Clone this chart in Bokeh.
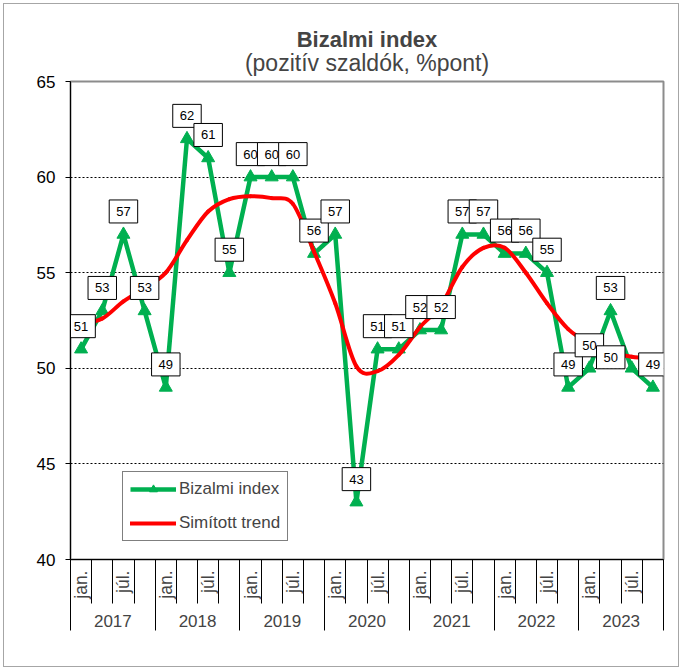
import numpy as np
from bokeh.plotting import figure
from bokeh.models import (Range1d, LinearAxis, FixedTicker, Legend, LegendItem,
                          Title, ColumnDataSource)
from bokeh.core.properties import value
from bokeh.embed import file_html
from bokeh.resources import INLINE

# ---------------- data ----------------
years = ["2017", "2018", "2019", "2020", "2021", "2022", "2023"]
quarter_labels = ["jan.", "", "júl.", ""]
index_values = [51, 53, 57, 53,
                49, 62, 61, 55,
                60, 60, 60, 56,
                57, 43, 51, 51,
                52, 52, 57, 57,
                56, 56, 55, 49,
                50, 53, 50, 49]
trend_values = [52.3, 52.6, 53.5, 54.2,
                55.0, 56.7, 58.2, 58.85,
                59.0, 58.9, 58.6, 56.1,
                53.4, 50.1, 49.85, 50.7,
                52.15, 53.3, 55.3, 56.3,
                56.3, 55.0, 53.4, 52.05,
                51.3, 50.85, 50.6, 50.5]
y_ticks = [40, 45, 50, 55, 60, 65]
grid_values = [45, 50, 55, 60]
title_text = "Bizalmi index"
subtitle_text = "(pozitív szaldók, %pont)"
series_names = ["Bizalmi index", "Simított trend"]

# label placement (screen px offsets)
label_dx = [0] * len(index_values)
label_dy = [-23] * len(index_values)
label_dx[26] = -21
label_dy[26] = -11

FONT = "Liberation Sans"
GREEN = "#00B050"
RED = "#FF0000"

FRAME_W = 593
FRAME_H = 478

n = len(index_values)
xq = np.arange(n) + 0.5

p = figure(width=676, height=664, x_range=Range1d(0, n), y_range=Range1d(40, 65),
           output_backend="svg", toolbar_location=None, x_axis_type=None,
           title=None,
           min_border_left=66, min_border_right=676 - 66 - FRAME_W,
           min_border_top=77, min_border_bottom=664 - 77 - FRAME_H)
p.background_fill_color = "white"
p.border_fill_color = "white"
p.outline_line_color = "#8c8c8c"
p.outline_line_width = 2
p.styles = {"margin": "3px", "border": "1px solid #a6a6a6"}

# y axis
yax = p.yaxis[0]
yax.ticker = FixedTicker(ticks=y_ticks)
yax.major_label_text_font = FONT
yax.major_label_text_font_size = "17px"
yax.major_label_text_color = "black"
yax.major_tick_out = 5
yax.major_tick_in = 0
yax.minor_tick_line_color = None
yax.axis_line_color = "black"
yax.major_tick_line_color = "black"
yax.major_label_standoff = 10

p.xgrid.visible = False
p.ygrid.ticker = FixedTicker(ticks=grid_values)
p.ygrid.grid_line_color = "black"
p.ygrid.grid_line_dash = "2 2"
p.ygrid.grid_line_width = 1

# x axis: quarter row (labels at quarter centres, lines at quarter bounds)
ax1 = LinearAxis(ticker=FixedTicker(ticks=[float(v) for v in xq],
                                    minor_ticks=list(range(n + 1))))
ax1.major_label_overrides = {float(xq[i]): quarter_labels[i % 4] for i in range(n)}
ax1.major_label_orientation = np.pi / 2
ax1.major_tick_out = 0
ax1.major_tick_in = 0
ax1.major_tick_line_color = None
ax1.minor_tick_out = 44
ax1.minor_tick_in = 0
ax1.minor_tick_line_color = "black"
ax1.major_label_standoff = -33
ax1.major_label_text_font = FONT
ax1.major_label_text_font_size = "17.5px"
ax1.axis_line_color = "black"
p.add_layout(ax1, "below")

# x axis: year row (labels at year centres, lines at year bounds)
year_centers = [4 * i + 2 for i in range(len(years))]
year_bounds = [4 * i for i in range(len(years) + 1)]
ax2 = LinearAxis(ticker=FixedTicker(ticks=year_centers, minor_ticks=year_bounds))
ax2.major_label_overrides = {year_centers[i]: years[i] for i in range(len(years))}
ax2.axis_line_color = None
ax2.major_tick_out = 0
ax2.major_tick_in = 0
ax2.major_tick_line_color = None
ax2.minor_tick_out = 29
ax2.minor_tick_in = 2
ax2.minor_tick_line_color = "black"
ax2.major_label_standoff = -16
ax2.major_label_text_font = FONT
ax2.major_label_text_font_size = "17px"
p.add_layout(ax2, "below")

# titles (subtitle next to the frame, main title above it)
p.add_layout(Title(text=subtitle_text, align="center", text_font=FONT,
                   text_font_size="23px", text_font_style="normal", standoff=11), "above")
p.add_layout(Title(text=title_text, align="center", text_font=FONT,
                   text_font_size="22px", text_font_style="bold", standoff=-18), "above")

# green index series
gl = p.line(xq, index_values, line_color=GREEN, line_width=4.5, line_join="round")
gm = p.scatter(xq, index_values, marker="triangle", size=13,
               fill_color=GREEN, line_color=GREEN)

# red smoothed trend (Catmull-Rom as cubic Bezier segments)
P = np.column_stack([xq, np.array(trend_values, dtype=float)])
Pe = np.vstack([P[0], P, P[-1]])
p0, p1, p2, p3 = Pe[:-3], Pe[1:-2], Pe[2:-1], Pe[3:]
c1 = p1 + (p2 - p0) / 6.0
c2 = p2 - (p3 - p1) / 6.0
rb = p.bezier(x0=p1[:, 0], y0=p1[:, 1], x1=p2[:, 0], y1=p2[:, 1],
              cx0=c1[:, 0], cy0=c1[:, 1], cx1=c2[:, 0], cy1=c2[:, 1],
              line_color=RED, line_width=4, line_cap="round")

# data labels
src = ColumnDataSource(dict(x=xq, y=index_values, text=[str(v) for v in index_values],
                            dx=label_dx, dy=label_dy))
p.text(x="x", y="y", text="text", x_offset="dx", y_offset="dy", source=src,
       text_font=value(FONT), text_font_size="13px", text_color="black",
       text_align="center", text_baseline="middle", anchor="center",
       background_fill_color="white", border_line_color="black", border_line_width=1,
       padding=(7, 7))

legend = Legend(items=[LegendItem(label=series_names[0], renderers=[gl, gm]),
                       LegendItem(label=series_names[1], renderers=[rb])],
                location=(52, 18))
legend.border_line_color = "black"
legend.border_line_width = 1
legend.background_fill_color = "white"
legend.background_fill_alpha = 1
legend.label_text_font = FONT
legend.label_text_font_size = "17px"
legend.glyph_width = 46
legend.glyph_height = 20
legend.label_height = 20
legend.label_standoff = 3
legend.padding = 7
legend.spacing = 14
legend.margin = 0
p.add_layout(legend, "center")

open("out.html", "w").write(file_html(p, INLINE))
